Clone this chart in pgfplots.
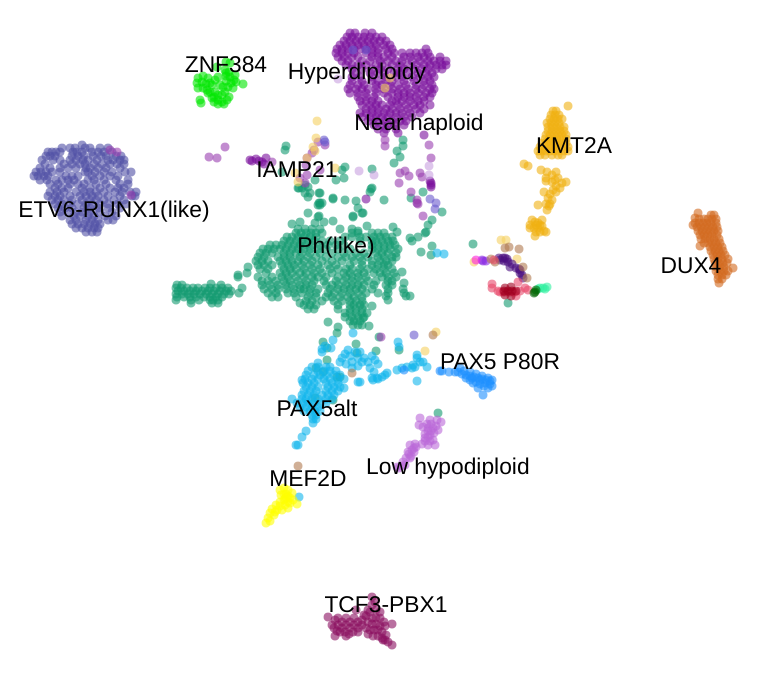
\documentclass[border=0pt]{standalone}
\usepackage{fontspec}
\setmainfont{Liberation Sans}
\usepackage{pgfplots}
\pgfplotsset{compat=1.18}
\definecolor{cPh}{HTML}{129A70}
\definecolor{cETV}{HTML}{5050A5}
\definecolor{cZNF}{HTML}{00E600}
\definecolor{cHyp}{HTML}{7A109C}
\definecolor{cNear}{HTML}{9A40B0}
\definecolor{cKMT}{HTML}{F0B010}
\definecolor{cDUX}{HTML}{D2691E}
\definecolor{cAlt}{HTML}{10B5EC}
\definecolor{cP80}{HTML}{1E90FF}
\definecolor{cLow}{HTML}{BA68D8}
\definecolor{cMEF}{HTML}{FFFF00}
\definecolor{cTCF}{HTML}{8B1060}
\definecolor{cInd}{HTML}{4B0F80}
\definecolor{cViol}{HTML}{8A2BE2}
\definecolor{cMag}{HTML}{FF20E0}
\definecolor{cTan}{HTML}{B07A50}
\definecolor{cGold}{HTML}{F5D060}
\definecolor{cPink}{HTML}{E8486A}
\definecolor{cCrim}{HTML}{A00020}
\definecolor{cDG}{HTML}{006400}
\definecolor{cSpr}{HTML}{30F0A0}
\definecolor{cSla}{HTML}{6A5ACD}
\definecolor{cLav}{HTML}{C8A0E0}
\pgfdeclareplotmark{disc}{%
\pgfpathmoveto{\pgfqpoint{4.5pt}{0pt}}%
\pgfpathlineto{\pgfqpoint{4.16pt}{1.72pt}}\pgfpathlineto{\pgfqpoint{3.18pt}{3.18pt}}\pgfpathlineto{\pgfqpoint{1.72pt}{4.16pt}}%
\pgfpathlineto{\pgfqpoint{0pt}{4.5pt}}\pgfpathlineto{\pgfqpoint{-1.72pt}{4.16pt}}\pgfpathlineto{\pgfqpoint{-3.18pt}{3.18pt}}\pgfpathlineto{\pgfqpoint{-4.16pt}{1.72pt}}%
\pgfpathlineto{\pgfqpoint{-4.5pt}{0pt}}\pgfpathlineto{\pgfqpoint{-4.16pt}{-1.72pt}}\pgfpathlineto{\pgfqpoint{-3.18pt}{-3.18pt}}\pgfpathlineto{\pgfqpoint{-1.72pt}{-4.16pt}}%
\pgfpathlineto{\pgfqpoint{0pt}{-4.5pt}}\pgfpathlineto{\pgfqpoint{1.72pt}{-4.16pt}}\pgfpathlineto{\pgfqpoint{3.18pt}{-3.18pt}}\pgfpathlineto{\pgfqpoint{4.16pt}{-1.72pt}}%
\pgfpathclose\pgfusepathqfill}
\pgfplotsset{pt/.style={only marks,mark=disc,mark options={fill=#1,fill opacity=.6}},
frame/.style={at={(0,0)},anchor=south west,scale only axis,width=768pt,height=672pt,xmin=0,xmax=768,ymin=0,ymax=672,y dir=reverse,hide axis,clip=false}}
\tikzset{lab/.style={font=\fontsize{22.8}{23}\selectfont,text=black,inner sep=0pt}}
\begin{document}
\begin{tikzpicture}
\path[use as bounding box] (0,0) rectangle (768pt,672pt);
\begin{axis}[frame]
% ETV6-RUNX1
\addplot[pt=cETV] coordinates {(82,145)(62,148)(70,148)(75,148)(85,148)(90,148)(100,148)(108,148)(48,152)(52,152)(56,152)(60,152)(73,152)(77,152)(82,152)(92,152)(98,152)(104,152)(112,152)(46,156)(50,156)(55,156)(72,156)(78,156)(84,156)(93,156)(101,156)(106,156)(116,156)(121,156)(42,160)(53,160)(60,160)(70,160)(76,160)(83,160)(88,160)(97,160)(108,160)(113,160)(120,160)(124,160)(45,164)(64,164)(72,164)(80,164)(85,164)(94,164)(102,164)(110,164)(117,164)(124,164)(40,168)(50,168)(60,168)(68,168)(76,168)(86,168)(90,168)(98,168)(106,168)(120,168)(36,172)(41,172)(46,172)(52,172)(60,172)(85,172)(88,172)(95,172)(104,172)(112,172)(125,172)(131,172)(34,176)(38,176)(44,176)(48,176)(66,176)(72,176)(78,176)(92,176)(100,176)(110,176)(118,176)(40,180)(47,180)(56,180)(62,180)(68,180)(74,180)(88,180)(94,180)(104,180)(116,180)(128,180)(50,184)(58,184)(70,184)(78,184)(84,184)(96,184)(106,184)(120,184)(128,184)(55,188)(62,188)(68,188)(82,188)(90,188)(100,188)(110,188)(118,188)(124,188)(50,192)(57,192)(64,192)(76,192)(84,192)(90,192)(96,192)(104,192)(115,192)(122,192)(130,192)(136,192)(48,196)(55,196)(60,196)(70,196)(80,196)(86,196)(92,196)(98,196)(108,196)(120,196)(132,196)(135,196)(52,200)(58,200)(64,200)(72,200)(82,200)(90,200)(96,200)(104,200)(114,200)(124,200)(55,204)(62,204)(70,204)(78,204)(86,204)(92,204)(100,204)(108,204)(118,204)(126,204)(58,208)(65,208)(72,208)(84,208)(90,208)(98,208)(108,208)(120,208)(60,212)(68,212)(76,212)(82,212)(90,212)(100,212)(112,212)(62,216)(74,216)(80,216)(88,216)(94,216)(105,216)(116,216)(70,220)(76,220)(86,220)(92,220)(98,220)(108,220)(113,220)(72,224)(78,224)(84,224)(90,224)(95,224)(100,224)(76,228)(82,228)(88,228)(94,228)(98,228)(86,232)(92,232)(97,232)};
% Ph(like)
\addplot[pt=cPh] coordinates {(177,285)(182,285)(211,284)(221,285)(176,288)(181,288)(187,288)(193,288)(198,288)(205,288)(210,288)(216,288)(222,288)(228,288)(178,291)(184,291)(190,291)(196,291)(202,291)(208,291)(214,291)(220,291)(226,291)(231,291)(176,294)(182,294)(188,294)(194,294)(200,294)(206,294)(212,294)(218,294)(224,294)(229,294)(177,297)(184,297)(190,297)(196,297)(204,297)(210,297)(216,297)(222,297)(176,300)(191,300)(199,300)(210,300)(213,300)(218,300)(191,303)(212,303)(218,303)(238,277)(238,275)(248,267)(242,288)(239,293)(247,273)(300,303)
(292,224)(300,222)(315,223)(324,222)(333,221)(308,213)(319,216)(353,216)(362,213)(367,226)(393,227)(397,232)(298,229)(305,229)(312,229)(320,229)(340,229)(352,229)(358,231)(296,233)(301,233)(306,233)(311,233)(316,233)(322,233)(352,233)(358,233)(372,233)(378,233)(384,233)(287,237)(292,237)(298,237)(304,237)(310,237)(316,237)(345,237)(352,237)(360,237)(366,237)(374,237)(380,237)(386,237)(392,237)(284,241)(290,241)(296,241)(302,241)(308,241)(314,241)(322,241)(330,241)(340,241)(360,241)(372,241)(376,241)(382,241)(388,241)(393,241)(270,245)(276,245)(282,245)(288,245)(294,245)(300,245)(306,245)(312,245)(320,245)(328,245)(336,245)(344,245)(372,245)(378,245)(384,245)(390,245)(395,245)(263,249)(268,249)(274,249)(280,249)(286,249)(292,249)(298,249)(304,249)(310,249)(318,249)(326,249)(338,249)(350,249)(372,249)(378,249)(384,249)(390,249)(398,249)(260,253)(266,253)(272,253)(284,253)(290,253)(296,253)(302,253)(310,253)(320,253)(332,253)(344,253)(356,253)(364,253)(376,253)(382,253)(388,253)(396,253)(258,257)(264,257)(278,257)(284,257)(290,257)(300,257)(308,257)(316,257)(326,257)(338,257)(346,257)(352,257)(360,257)(368,257)(378,257)(384,257)(392,257)(396,257)(256,261)(262,261)(268,261)(280,261)(286,261)(292,261)(298,261)(304,261)(312,261)(322,261)(332,261)(342,261)(354,261)(362,261)(372,261)(380,261)(386,261)(392,261)(258,265)(264,265)(272,265)(282,265)(288,265)(294,265)(302,265)(310,265)(318,265)(328,265)(336,265)(350,265)(362,265)(372,265)(378,265)(384,265)(388,265)(260,269)(268,269)(284,269)(290,269)(296,269)(304,269)(312,269)(320,269)(330,269)(338,269)(346,269)(352,269)(360,269)(368,269)(376,269)(384,269)(392,269)(266,273)(280,273)(286,273)(292,273)(300,273)(306,273)(314,273)(322,273)(332,273)(344,273)(350,273)(358,273)(364,273)(374,273)(380,273)(386,273)(394,273)(258,277)(272,277)(282,277)(288,277)(296,277)(304,277)(312,277)(318,277)(326,277)(338,277)(346,277)(352,277)(358,277)(366,277)(382,277)(388,277)(396,277)(402,272)(262,281)(268,281)(276,281)(284,281)(290,281)(298,281)(306,281)(314,281)(324,281)(336,281)(344,281)(352,281)(360,281)(368,281)(376,281)(388,281)(392,281)(262,285)(270,285)(278,285)(286,285)(292,285)(300,285)(306,285)(312,285)(326,285)(332,285)(338,285)(346,285)(352,285)(358,285)(364,285)(374,285)(386,285)(392,285)(404,283)(264,289)(272,289)(278,289)(286,289)(294,289)(300,289)(304,289)(310,289)(318,289)(330,289)(338,289)(344,289)(350,289)(356,289)(362,289)(372,289)(388,289)(403,289)(268,293)(276,293)(288,293)(294,293)(302,293)(310,293)(316,293)(328,293)(334,293)(342,293)(350,293)(358,293)(366,293)(378,293)(388,293)(404,293)(272,297)(278,297)(296,297)(308,297)(316,297)(326,297)(332,297)(340,297)(348,297)(354,297)(362,297)(386,296)(406,296)(306,301)(312,301)(322,301)(334,301)(342,301)(350,301)(356,301)(362,301)(388,300)(410,296)(304,305)(310,305)(316,305)(338,305)(350,305)(354,305)(360,305)(364,305)(308,309)(314,309)(338,309)(350,309)(356,309)(362,309)(372,306)(345,313)(350,313)(356,313)(362,313)(367,313)(345,317)(352,317)(358,317)(364,317)(350,321)(354,321)(360,321)(353,325)(358,325)(362,325)(363,318)(369,326)
(320,203)(319,203)(322,203)(320,205)(318,205)(319,193)(333,199)(345,200)(356,201)(358,208)(384,200)(371,189)(308,187)(299,188)(305,193)(410,238)(412,241)(418,237)(425,233)(426,232)(428,225)(432,220)(442,212)(421,252)(431,255)(432,246)(403,140)(403,146)(397,151)(400,157)(394,163)(345,167)(342,170)(344,178)(336,180)(372,169)(372,188)(370,192)(286,146)(285,150)(423,192)(411,198)(363,213)(333,198)(320,193)(318,217)(353,217)(302,188)(308,197)(310,193)(305,185)(298,188)(315,180)(282,172)
(328,322)(338,327)(337,333)(323,342)(327,348)(356,344)(379,337)(399,350)(376,351)(357,353)(327,360)(316,368)(323,372)(337,377)(340,377)(315,398)(333,400)(438,413)};
\addplot[pt=cAlt] coordinates {(437,253)(444,254)(333,340)(322,349)(318,363)(312,367)(318,367)(326,367)(330,367)(308,371)(318,371)(324,371)(330,371)(336,371)(306,375)(314,375)(320,375)(326,375)(334,375)(340,375)(305,379)(312,379)(318,379)(324,379)(330,379)(338,379)(344,379)(303,383)(308,383)(314,383)(326,383)(332,383)(338,383)(306,387)(312,387)(318,387)(328,387)(334,387)(340,387)(344,388)(304,391)(310,391)(316,391)(326,391)(332,391)(338,391)(302,395)(308,395)(314,395)(322,395)(328,395)(334,395)(292,399)(302,399)(306,399)(312,399)(318,399)(326,399)(332,399)(297,403)(303,403)(308,403)(314,403)(320,403)(326,403)(300,407)(306,407)(312,407)(318,407)(304,411)(310,411)(315,411)(320,411)(312,415)(316,415)(313,419)(316,419)(313,423)(306,431)(302,437)(296,445)(298,445)(302,380)
(340,362)(342,358)(345,354)(348,350)(350,356)(346,364)(352,362)(355,352)(358,358)(352,368)(358,366)(362,362)(360,352)(364,358)(368,362)(372,356)(375,360)(370,368)(374,372)(378,364)(372,378)(377,378)(382,377)(387,373)(385,375)(373,380)(378,379)(358,382)(360,382)(397,370)(402,368)(407,367)(413,365)(417,358)(420,362)(423,362)(417,355)(412,368)(415,367)(417,381)(398,342)(399,347)(353,333)(427,367)(299,497)
(325,346)(331,348)(322,352)};
\addplot[pt=cP80] coordinates {(440,371)(442,371)(449,372)(455,372)(458,372)(462,374)(466,375)(470,376)(474,377)(478,378)(482,379)(486,380)(490,381)(464,371)(470,372)(476,374)(482,376)(488,378)(492,380)(476,382)(480,384)(484,386)(488,388)(492,386)(470,380)(473,383)(478,388)(483,395)(460,368)(404,370)(466,378)(472,378)(480,380)(485,383)(490,384)};
% Low hypodiploid
\addplot[pt=cLow] coordinates {(399,468)(403,462)(406,458)(409,454)(412,450)(414,448)(410,458)(405,465)(402,466)(408,452)(416,447)(410,445)(415,444)(397,467)(411,456)(414,452)(420,418)(430,420)(437,420)(441,422)(419,425)(423,427)(428,431)(433,428)(436,426)(431,424)(434,433)(428,437)(425,441)(430,441)(435,445)(422,444)(428,445)(433,440)(425,434)(438,430)(427,424)(430,435)(428,428)(425,438)(431,431)};
% MEF2D
\addplot[pt=cMEF] coordinates {(280,490)(284,488)(288,490)(292,493)(286,494)(281,495)(290,498)(284,500)(288,502)(293,500)(280,502)(276,505)(285,505)(272,509)(277,510)(282,510)(270,513)(274,515)(268,518)(270,521)(266,523)(297,504)(288,508)(286,497)(284,494)(288,496)(280,506)(275,512)(285,499)(290,503)};
% ZNF384
\addplot[pt=cZNF] coordinates {(198,78)(203,76)(208,78)(197,83)(202,82)(206,84)(210,83)(198,88)(203,88)(207,90)(215,80)(212,85)(218,77)(226,76)(230,77)(234,80)(226,81)(231,83)(236,82)(223,87)(228,87)(233,88)(225,92)(220,85)(215,92)(210,92)(214,97)(218,95)(222,95)(212,98)(214,102)(218,100)(222,102)(227,100)(218,104)(224,104)(229,97)(243,84)(226,62)(217,67)(225,70)(230,63)(200,100)(201,103)(208,93)(226,73)(229,72)(235,75)};
% Hyperdiploidy
\addplot[pt=cHyp] coordinates {(350,33)(355,33)(365,33)(372,33)(347,37)(352,37)(358,37)(364,37)(370,37)(376,37)(382,37)(344,41)(350,41)(356,41)(362,41)(368,41)(374,41)(380,41)(386,41)(340,45)(346,45)(352,45)(358,45)(364,45)(370,45)(376,45)(384,45)(390,45)(337,49)(342,49)(348,49)(354,49)(360,49)(366,49)(372,49)(378,49)(386,49)(392,49)(426,49)(336,53)(342,53)(348,53)(354,53)(366,53)(372,53)(378,53)(388,53)(394,53)(402,53)(410,53)(416,53)(422,53)(428,53)(338,57)(344,57)(352,57)(358,57)(372,57)(378,57)(384,57)(392,57)(404,57)(410,57)(418,57)(424,57)(430,57)(440,57)(342,61)(348,61)(362,61)(370,61)(380,61)(388,61)(396,61)(402,61)(412,61)(420,61)(428,61)(434,61)(440,61)(446,61)(346,65)(352,65)(358,65)(366,65)(376,65)(382,65)(392,65)(400,65)(408,65)(416,65)(424,65)(430,65)(436,65)(442,65)(446,65)(352,69)(362,69)(372,69)(380,69)(388,69)(398,69)(404,69)(414,69)(422,69)(428,69)(436,69)(442,69)(356,73)(370,73)(378,73)(384,73)(394,73)(400,73)(408,73)(418,73)(426,73)(432,73)(352,77)(360,77)(372,77)(386,77)(396,77)(402,77)(412,77)(420,77)(428,77)(434,77)(352,81)(362,81)(372,81)(378,81)(386,81)(392,81)(404,81)(414,81)(424,81)(430,81)(350,85)(358,85)(364,85)(376,85)(382,85)(390,85)(398,85)(406,85)(416,85)(424,85)(432,85)(348,89)(356,89)(362,89)(368,89)(376,89)(384,89)(392,89)(400,89)(408,89)(416,89)(422,89)(430,89)(434,89)(350,93)(358,93)(366,93)(376,93)(384,93)(392,93)(398,93)(404,93)(410,93)(418,93)(426,93)(432,93)(358,97)(366,97)(374,97)(388,97)(398,97)(404,97)(410,97)(416,97)(424,97)(430,97)(360,101)(366,101)(372,101)(378,101)(392,101)(396,101)(402,101)(410,101)(418,101)(424,101)(362,105)(370,105)(376,105)(382,105)(390,105)(398,105)(406,105)(414,105)(420,105)(430,105)(366,109)(372,109)(378,109)(386,109)(392,109)(400,109)(408,109)(416,109)(424,109)(360,113)(366,113)(372,113)(378,113)(384,113)(390,113)(396,113)(402,113)(410,113)(420,113)(362,117)(370,117)(376,117)(382,117)(388,117)(396,117)(404,117)(412,117)(368,121)(376,121)(384,121)(392,121)(400,121)(406,121)(374,125)(382,125)(388,125)(394,125)(404,125)(378,129)(386,129)(396,129)(384,133)(398,133)(424,135)
(431,183)(431,187)(431,185)(430,181)(417,203)(366,199)(256,159)(252,161)(259,161)(262,162)(266,158)(250,160)(264,164)};
% Near haploid and scattered purple
\addplot[pt=cNear] coordinates {(385,140)(385,146)(429,145)(431,158)(400,173)(405,171)(409,176)(399,183)(420,173)(422,177)(411,192)(423,216)(417,200)(225,147)(209,157)(217,158)(110,150)(117,152)(131,195)(318,142)(325,145)(312,153)(307,158)(306,165)(320,170)(307,175)(305,183)(300,178)(314,150)(418,204)(381,337)(272,162)};
\addplot[pt=cSla] coordinates {(324,140)(325,142)(430,199)(436,203)(435,209)(414,335)(366,50)(353,50)};
\addplot[pt=cLav] coordinates {(359,171)(374,175)(338,79)(429,166)(429,175)};
\addplot[pt=cGold] coordinates {(317,121)(316,138)(313,147)(315,151)(307,158)(335,168)(295,173)(298,182)(390,78)(385,88)(436,332)(425,351)(501,240)(506,240)(517,259)(474,262)};
% KMT2A
\addplot[pt=cKMT] coordinates {(568,106)(553,111)(556,111)(551,115)(555,115)(559,115)(550,119)(554,119)(558,119)(562,119)(547,123)(551,123)(555,123)(559,123)(548,127)(552,127)(556,127)(560,127)(564,127)(548,131)(552,131)(556,131)(560,131)(564,131)(546,135)(550,135)(554,135)(558,135)(562,135)(566,135)(545,139)(549,139)(553,139)(557,139)(561,139)(566,139)(542,143)(546,143)(550,143)(554,143)(558,143)(562,143)(566,143)(540,147)(545,147)(549,147)(553,147)(557,147)(562,147)(568,147)(538,151)(542,151)(546,151)(550,151)(554,151)(558,151)(564,151)(568,151)(540,155)(545,155)(552,155)(558,155)(562,155)(524,164)(528,166)(541,170)(547,172)(546,178)(552,175)(556,172)(558,178)(555,180)(546,181)(552,182)(562,183)(566,182)(556,186)(560,188)(553,190)(550,194)(556,192)(548,198)(552,200)(546,204)(550,204)(544,192)(538,205)(547,210)(549,206)(532,220)(535,222)(538,223)(542,220)(530,228)(534,228)(538,228)(542,226)(536,232)(540,232)(544,231)(535,236)(546,232)(530,225)(536,225)(540,225)};
% DUX4
\addplot[pt=cDUX] coordinates {(698,213)(695,218)(693,225)(711,215)(714,215)(699,219)(704,219)(708,219)(712,219)(716,219)(695,223)(699,223)(703,223)(707,223)(711,223)(716,223)(697,227)(701,227)(705,227)(709,227)(713,227)(717,227)(698,231)(702,231)(706,231)(710,231)(714,231)(718,231)(700,235)(704,235)(708,235)(712,235)(717,235)(701,239)(705,239)(710,239)(714,239)(719,239)(704,243)(708,243)(712,243)(716,243)(720,243)(700,246)(710,247)(714,247)(718,247)(722,247)(711,251)(715,251)(719,251)(723,251)(713,255)(717,255)(721,255)(725,255)(714,259)(718,259)(722,259)(728,259)(715,263)(719,263)(723,263)(727,263)(716,267)(720,267)(724,267)(733,268)(716,271)(720,271)(724,271)(728,271)(718,275)(722,275)(726,275)(718,279)(722,279)(719,283)};
% TCF3-PBX1
\addplot[pt=cTCF] coordinates {(328,617)(332,625)(335,620)(338,618)(342,622)(346,618)(350,622)(354,618)(358,622)(334,628)(338,625)(342,628)(346,625)(350,628)(354,625)(358,628)(362,625)(335,636)(340,632)(345,632)(349,634)(353,632)(358,632)(346,636)(337,631)(372,597)(375,602)(372,605)(368,610)(364,615)(356,610)(370,612)(376,610)(380,612)(372,618)(376,618)(380,618)(384,622)(368,622)(372,624)(376,624)(380,626)(385,626)(392,624)(366,628)(370,630)(374,630)(378,630)(382,632)(386,635)(368,634)(373,636)(378,636)(382,638)(385,640)(388,642)(392,645)(383,640)(362,620)(366,616)};
% small groups
\addplot[pt=cInd] coordinates {(499,258)(503,258)(507,259)(508,262)(510,267)(519,269)(522,275)(523,278)(505,258)(520,270)(500,260)(512,264)(516,268)(504,261)(520,273)};
\addplot[pt=cViol] coordinates {(482,260)(483,261)(486,261)};
\addplot[pt=cMag] coordinates {(476,260)};
\addplot[pt=cTan] coordinates {(505,248)(509,247)(519,249)(523,267)(527,278)(298,466)(352,373)(433,335)(491,259)(495,262)};
\addplot[pt=cPh] coordinates {(473,244)(508,303)};
\addplot[pt=cPink] coordinates {(492,284)(492,288)(498,291)(518,282)(516,296)(503,292)(515,292)(525,288)(528,290)(505,292)(510,292)(513,292)(500,292)(520,291)(494,260)};
\addplot[pt=cCrim] coordinates {(504,291)(508,291)(512,291)(516,291)(505,288)(505,295)(511,287)(511,296)};
\addplot[pt=cSpr] coordinates {(540,288)(543,288)(547,287)(538,289)(545,289)};
\addplot[pt=cDG] coordinates {(535,292)(536,290)(534,293)};
\end{axis}
\begin{axis}[frame]
\node[lab] at (axis cs:226,65) {ZNF384};
\node[lab] at (axis cs:357,74) {Hyperdiploidy};
\node[lab] at (axis cs:419,125) {Near haploid};
\node[lab] at (axis cs:574,146) {KMT2A};
\node[lab] at (axis cs:297,170) {IAMP21};
\node[lab] at (axis cs:114,212) {ETV6-RUNX1(like)};
\node[lab] at (axis cs:336,248) {Ph(like)};
\node[lab] at (axis cs:691,266) {DUX4};
\node[lab] at (axis cs:500,362) {PAX5 P80R};
\node[lab] at (axis cs:317,408) {PAX5alt};
\node[lab] at (axis cs:448,469) {Low hypodiploid};
\node[lab] at (axis cs:308,479) {MEF2D};
\node[lab] at (axis cs:386,605) {TCF3-PBX1};
\end{axis}
\end{tikzpicture}
\end{document}
